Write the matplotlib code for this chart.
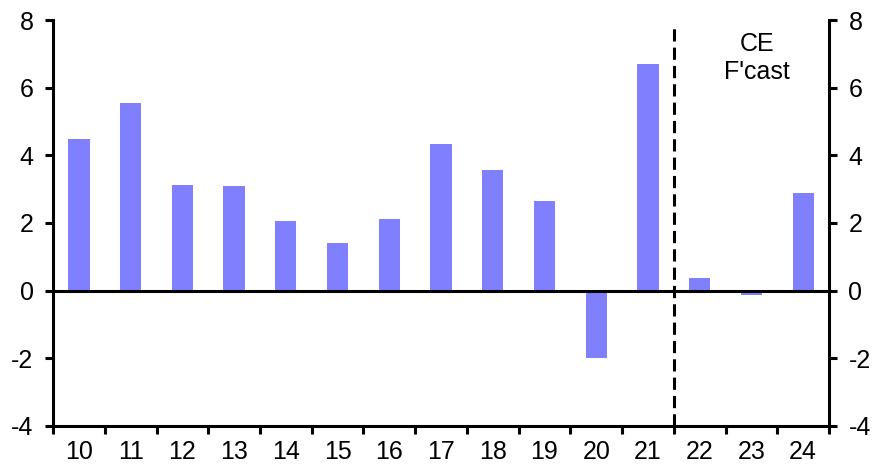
import matplotlib
matplotlib.use("Agg")
import matplotlib.pyplot as plt

years = ["10", "11", "12", "13", "14", "15", "16", "17", "18", "19", "20", "21", "22", "23", "24"]
values = [4.48, 5.55, 3.13, 3.10, 2.06, 1.42, 2.12, 4.34, 3.57, 2.65, -1.98, 6.70, 0.38, -0.13, 2.89]
forecast_start = 11.5

plt.rcParams["font.family"] = ["Liberation Sans", "DejaVu Sans"]
plt.rcParams["font.size"] = 18
plt.rcParams["axes.unicode_minus"] = False

fig = plt.figure(figsize=(8.87, 4.73), dpi=100)
ax = fig.add_axes([0.0598, 0.0994, 0.8748, 0.8583])

pos = list(range(len(years)))
ax.bar(pos, values, width=0.41, color="#8080FF", zorder=2)

ax.axhline(0, color="black", lw=2.2, zorder=3)
ax.axvline(forecast_start, ymin=0.0, ymax=0.985, color="black", lw=2.2,
           linestyle=(0, (4, 2)), zorder=3)
ax.text(13.1, 6.88, "CE\nF'cast", ha="center", va="center", fontsize=18, linespacing=1.2)

ax.set_xlim(-0.5, len(years) - 0.5)
ax.set_ylim(-4, 8)
ax.set_yticks(range(-4, 9, 2))
ax.set_xticks(pos)
ax.set_xticklabels(years)
ax.set_xticks([p - 0.5 for p in pos] + [len(years) - 0.5], minor=True)
ax.tick_params(axis="x", which="major", length=0, pad=10)
ax.tick_params(axis="x", which="minor", length=6, width=2.2, direction="out")
ax.tick_params(axis="y", length=6, width=2.2, direction="out", pad=8,
               labelleft=True, labelright=True, right=True)

for side in ["left", "right", "bottom"]:
    ax.spines[side].set_linewidth(2.2)
ax.spines["top"].set_visible(False)

fig.savefig("out.png", dpi=100)
